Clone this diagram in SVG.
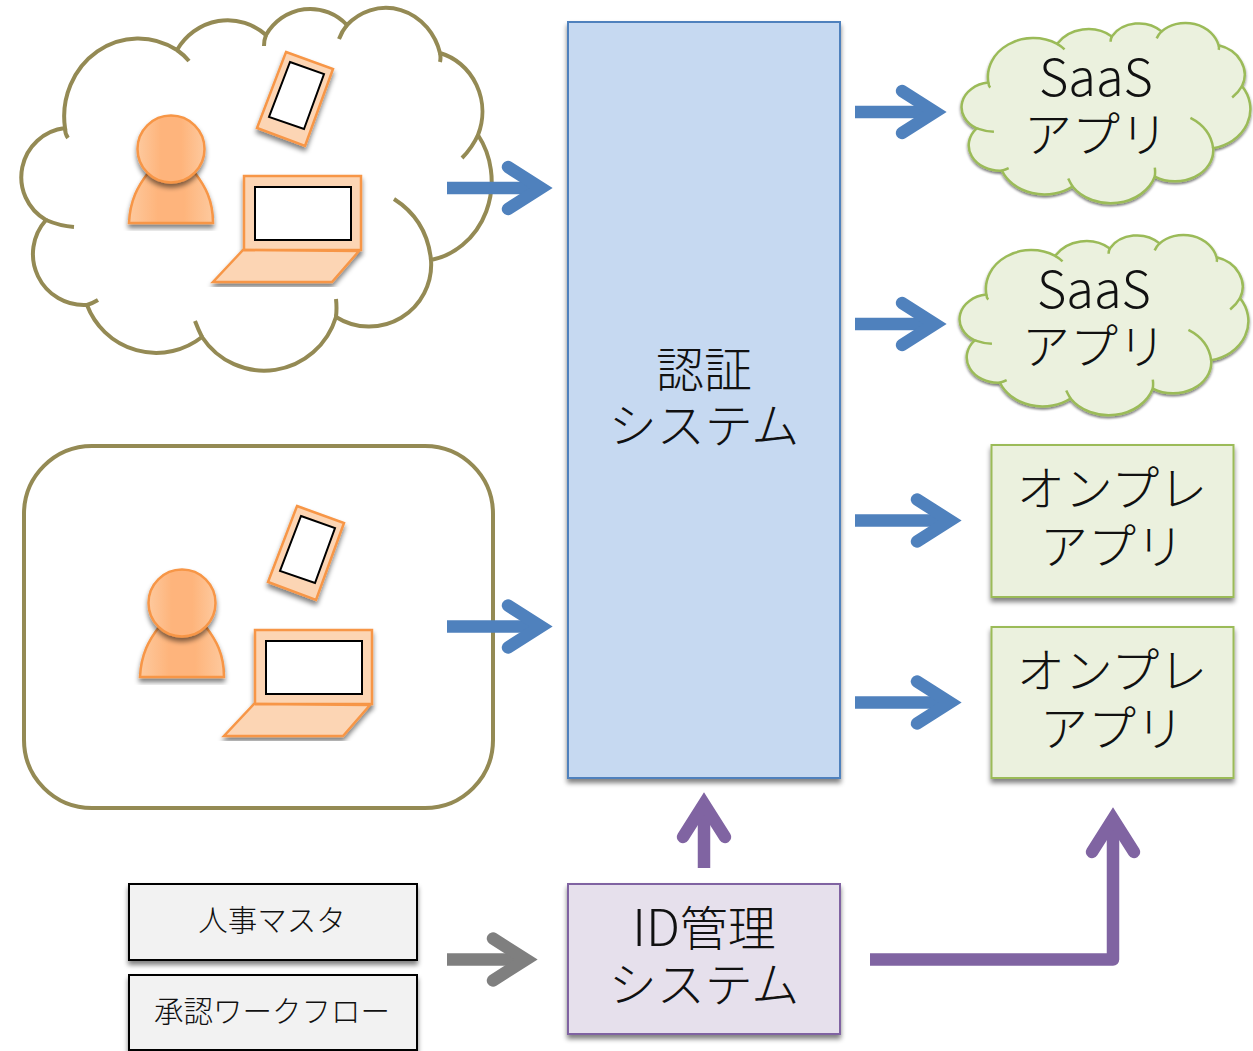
<svg xmlns="http://www.w3.org/2000/svg" width="1253" height="1051" viewBox="0 0 1253 1051">
<style>
text{font-family:"Noto Sans CJK JP","Noto Sans",sans-serif;font-weight:300;fill:#111;text-anchor:middle}
.big{font-size:48px}
.latin{font-size:50.5px}
.small{font-size:29.5px}
.olive{fill:#fff;stroke:#948a54;stroke-width:4}
.cloudg{fill:#ebf1de;stroke:#9bbb59;stroke-width:2.5}
.cloudg path{vector-effect:non-scaling-stroke}
.or{stroke:#f79646;stroke-width:2.5;stroke-linejoin:miter}
.lt{fill:#fcd5b4}
.scr{fill:#fff;stroke:#000;stroke-width:2}
.pg{fill:url(#pg)}
.box{stroke-width:2}
.conn{fill:none;stroke-width:12.5}
.head{fill:none;stroke-width:12.5;stroke-linecap:round}
</style>
<defs>
<linearGradient id="pg" x1="0" x2="1" y1="0" y2="0"><stop offset="0" stop-color="#fdc99e"/><stop offset=".35" stop-color="#feb47b"/><stop offset=".65" stop-color="#feb47b"/><stop offset="1" stop-color="#fdc99e"/></linearGradient>
<filter id="sh" x="-15%" y="-15%" width="130%" height="130%"><feGaussianBlur in="SourceAlpha" stdDeviation="2.5"/><feOffset dx="0" dy="4"/><feComponentTransfer><feFuncA type="linear" slope=".5"/></feComponentTransfer><feMerge><feMergeNode/><feMergeNode in="SourceGraphic"/></feMerge></filter>
<path id="cloudOuter" d="M65 128A74 78 0 0 1 177 50A60 64 0 0 1 266 35A52 55 0 0 1 347 25A56 61 0 0 1 440 53A58 61 0 0 1 478 135A74 80 0 0 1 431 260A62 62 0 0 1 336 317A75 76 0 0 1 202 337A74 74 0 0 1 87 305A51 51 0 0 1 46 220A49.500 49.500 0 0 1 65 128Z"/>
<path id="cloudHooks" fill="none" d="M65 128Q65 134 68 138M177 50Q184 55 189 61M266 35Q264 40 264 46M347 25Q342 31 339 39M440 53Q441 58 440 62M478 135Q472 148 462 158M394 199Q427 220 431 260M336 317Q337 308 336 299M202 337Q198 329 195 321M87 305Q93 303 98 300M46 220Q60 226 74 227"/>
<g id="person"><path class="or pg" filter="url(#sh)" d="M129 223C130 200 138 186 148 173L195 173C205 186 213 200 213 223Z"/><circle class="or pg" filter="url(#sh)" cx="171" cy="149" r="33.5"/></g>
<g id="phone"><polygon class="or lt" filter="url(#sh)" points="286,52 333,69 305,146 257,128"/><polygon class="scr" points="290,62 324,74 304,129 269,117"/></g>
<g id="laptop"><rect class="or lt" filter="url(#sh)" x="244" y="176" width="117" height="74"/><rect class="scr" x="255" y="187" width="96" height="53"/><polygon class="or lt" filter="url(#sh)" points="243,250 359,251 332,282 213,282"/></g>
<marker id="hb" markerUnits="userSpaceOnUse" orient="auto" overflow="visible" markerWidth="60" markerHeight="60" refX="0" refY="0" viewBox="-40 -30 60 60"><path class="head" d="M-33 -21L0 0L-33 21" stroke="#4f81bd"/></marker>
<marker id="hg" markerUnits="userSpaceOnUse" orient="auto" overflow="visible" markerWidth="60" markerHeight="60" refX="0" refY="0" viewBox="-40 -30 60 60"><path class="head" d="M-33 -21L0 0L-33 21" stroke="#7f7f7f"/></marker>
<marker id="hp" markerUnits="userSpaceOnUse" orient="auto" overflow="visible" markerWidth="60" markerHeight="60" refX="0" refY="0" viewBox="-40 -30 60 60"><path class="head" d="M-33 -21L0 0L-33 21" stroke="#8064a2"/></marker>
</defs>
<rect width="1253" height="1051" fill="#fff"/>
<g id="cloud-zone" class="olive"><use href="#cloudOuter"/><use href="#cloudHooks"/></g>
<rect id="corp-zone" class="olive" x="24" y="446" width="469" height="362" rx="68"/>
<g id="user-outside"><use href="#person"/><use href="#phone"/><use href="#laptop"/></g>
<g id="user-inside" transform="translate(11 454)"><use href="#person"/><use href="#phone"/><use href="#laptop"/></g>
<g id="auth-system"><rect class="box" x="568" y="22" width="272" height="756" fill="#c6d9f1" stroke="#4f81bd" filter="url(#sh)"/><text class="big" x="704" y="387">認証<tspan x="704" dy="56">システム</tspan></text></g>
<g id="saas-1"><g class="cloudg" filter="url(#sh)" transform="translate(948.5 19) scale(.614 .497)"><path d="M65 128A74 78 0 0 1 177 50A60 64 0 0 1 266 35A52 55 0 0 1 347 25A56 61 0 0 1 440 53A58 61 0 0 1 478 135A74 80 0 0 1 431 260A62 62 0 0 1 336 317A75 76 0 0 1 202 337A74 74 0 0 1 87 305A51 51 0 0 1 46 220A49.500 49.500 0 0 1 65 128Z"/><path fill="none" d="M65 128Q65 134 68 138M177 50Q184 55 189 61M266 35Q264 40 264 46M347 25Q342 31 339 39M440 53Q441 58 440 62M478 135Q472 148 462 158M394 199Q427 220 431 260M336 317Q337 308 336 299M202 337Q198 329 195 321M87 305Q93 303 98 300M46 220Q60 226 74 227"/></g><text class="big" x="1096" y="95.500"><tspan class="latin">SaaS</tspan><tspan x="1096" dy="56">アプリ</tspan></text></g>
<g id="saas-2"><g class="cloudg" filter="url(#sh)" transform="translate(946.5 231) scale(.614 .497)"><path d="M65 128A74 78 0 0 1 177 50A60 64 0 0 1 266 35A52 55 0 0 1 347 25A56 61 0 0 1 440 53A58 61 0 0 1 478 135A74 80 0 0 1 431 260A62 62 0 0 1 336 317A75 76 0 0 1 202 337A74 74 0 0 1 87 305A51 51 0 0 1 46 220A49.500 49.500 0 0 1 65 128Z"/><path fill="none" d="M65 128Q65 134 68 138M177 50Q184 55 189 61M266 35Q264 40 264 46M347 25Q342 31 339 39M440 53Q441 58 440 62M478 135Q472 148 462 158M394 199Q427 220 431 260M336 317Q337 308 336 299M202 337Q198 329 195 321M87 305Q93 303 98 300M46 220Q60 226 74 227"/></g><text class="big" x="1094" y="307.500"><tspan class="latin">SaaS</tspan><tspan x="1094" dy="56">アプリ</tspan></text></g>
<g id="onprem-1"><rect class="box" x="991.5" y="445" width="242" height="152" fill="#ebf1de" stroke="#9bbb59" filter="url(#sh)"/><text class="big" x="1112" y="506">オンプレ<tspan x="1112" dy="58">アプリ</tspan></text></g>
<g id="onprem-2"><rect class="box" x="991.5" y="627" width="242" height="151" fill="#ebf1de" stroke="#9bbb59" filter="url(#sh)"/><text class="big" x="1112" y="688">オンプレ<tspan x="1112" dy="58">アプリ</tspan></text></g>
<g id="id-system"><rect class="box" x="568" y="884" width="272" height="150" fill="#e6e0ec" stroke="#8064a2" filter="url(#sh)"/><text class="big" x="704" y="946"><tspan class="latin">ID</tspan>管理<tspan x="704" dy="56">システム</tspan></text></g>
<g id="hr-master"><rect class="box" x="129" y="884" width="288" height="76" fill="#f2f2f2" stroke="#000" filter="url(#sh)"/><text class="small" x="272" y="931">人事マスタ</text></g>
<g id="workflow"><rect class="box" x="129" y="975" width="288" height="75" fill="#f2f2f2" stroke="#000" filter="url(#sh)"/><text class="small" x="272" y="1022">承認ワークフロー</text></g>
<g id="connectors" class="conn">
<path stroke="#4f81bd" marker-end="url(#hb)" d="M447 188H541"/>
<path stroke="#4f81bd" marker-end="url(#hb)" d="M447 626.500H541"/>
<path stroke="#4f81bd" marker-end="url(#hb)" d="M855 112H935"/>
<path stroke="#4f81bd" marker-end="url(#hb)" d="M855 324H935"/>
<path stroke="#4f81bd" marker-end="url(#hb)" d="M855 520.500H950"/>
<path stroke="#4f81bd" marker-end="url(#hb)" d="M855 702.500H950"/>
<path stroke="#7f7f7f" marker-end="url(#hg)" d="M447 959.500H526"/>
<path stroke="#8064a2" marker-end="url(#hp)" d="M704 868V804"/>
<path stroke="#8064a2" stroke-linejoin="round" marker-end="url(#hp)" d="M870 959.500H1113V819"/>
</g>
</svg>
